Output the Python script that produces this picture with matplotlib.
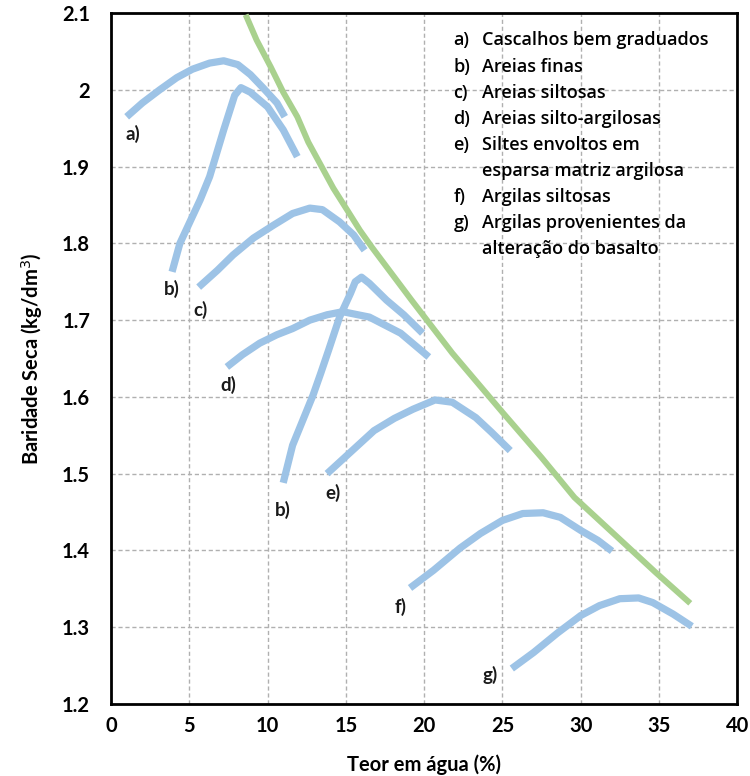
import matplotlib.pyplot as plt

plt.rcParams['font.family'] = ['Lato', 'DejaVu Sans']

# Compaction curves: water content (%) and dry density (kg/dm3)
a_x = [1.0, 2.0, 3.1, 4.2, 5.2, 6.3, 7.2, 8.1, 8.9, 9.7, 10.6, 11.1]
a_y = [1.965, 1.983, 2.000, 2.016, 2.027, 2.035, 2.038, 2.033, 2.020, 2.003, 1.983, 1.965]

b1_x = [3.9, 4.4, 5.7, 6.3, 7.2, 7.9, 8.3, 8.9, 10.0, 11.0, 11.9]
b1_y = [1.763, 1.800, 1.857, 1.887, 1.948, 1.993, 2.003, 1.997, 1.978, 1.948, 1.913]

c_x = [5.6, 6.8, 7.8, 9.1, 10.4, 11.6, 12.7, 13.5, 14.6, 15.5, 16.2]
c_y = [1.743, 1.765, 1.785, 1.807, 1.824, 1.839, 1.846, 1.844, 1.828, 1.811, 1.791]

d_x = [7.4, 8.4, 9.5, 10.6, 11.6, 12.7, 13.8, 14.8, 16.5, 18.5, 20.3]
d_y = [1.639, 1.655, 1.670, 1.681, 1.689, 1.700, 1.707, 1.711, 1.704, 1.683, 1.652]

b2_x = [11.0, 11.6, 12.9, 13.4, 13.9, 14.6, 15.3, 15.6, 16.0, 16.5, 17.6, 18.7, 19.9]
b2_y = [1.488, 1.537, 1.602, 1.631, 1.661, 1.704, 1.735, 1.750, 1.756, 1.748, 1.726, 1.707, 1.683]

e_x = [13.8, 15.3, 16.8, 18.1, 19.3, 20.7, 21.8, 23.3, 24.3, 25.5]
e_y = [1.500, 1.528, 1.556, 1.572, 1.584, 1.596, 1.593, 1.573, 1.554, 1.530]

f_x = [19.1, 20.6, 22.3, 23.6, 25.0, 26.3, 27.6, 28.7, 30.0, 31.1, 32.0]
f_y = [1.351, 1.374, 1.403, 1.422, 1.439, 1.448, 1.449, 1.443, 1.426, 1.413, 1.399]

g_x = [25.6, 27.0, 28.5, 30.0, 31.2, 32.5, 33.7, 34.6, 35.9, 37.1]
g_y = [1.246, 1.267, 1.292, 1.315, 1.328, 1.337, 1.338, 1.332, 1.317, 1.301]

# Saturation line
sat_x = [8.6, 9.3, 10.2, 11.0, 11.9, 12.6, 13.4, 14.2, 15.1, 15.9, 16.7,
         19.2, 21.8, 25.0, 27.5, 29.6, 32.2, 34.8, 37.0]
sat_y = [2.098, 2.065, 2.030, 1.997, 1.965, 1.932, 1.902, 1.872, 1.843, 1.817, 1.794,
         1.726, 1.657, 1.580, 1.521, 1.469, 1.420, 1.371, 1.331]

curve_labels = ['a)', 'b)', 'c)', 'd)', 'b)', 'e)', 'f)', 'g)']
label_x = [1.4, 3.9, 5.7, 7.5, 11.0, 14.2, 18.5, 24.2]
label_y = [1.942, 1.740, 1.713, 1.616, 1.452, 1.475, 1.326, 1.238]

legend_keys = ['a)', 'b)', 'c)', 'd)', 'e)', '', 'f)', 'g)', '']
legend_text = ['Cascalhos bem graduados', 'Areias finas', 'Areias siltosas',
               'Areias silto-argilosas', 'Siltes envoltos em',
               'esparsa matriz argilosa', 'Argilas siltosas',
               'Argilas provenientes da', 'alteração do basalto']

blue = '#9dc3e6'
green = '#a9d18e'

fig = plt.figure(figsize=(7.5, 7.76), dpi=100)
ax = fig.add_axes([0.148, 0.093, 0.835, 0.890])

ax.plot(sat_x, sat_y, color=green, lw=4.3, solid_capstyle='butt',
        solid_joinstyle='round', zorder=3)
for xs, ys in [(a_x, a_y), (b1_x, b1_y), (c_x, c_y), (d_x, d_y),
               (b2_x, b2_y), (e_x, e_y), (f_x, f_y), (g_x, g_y)]:
    ax.plot(xs, ys, color=blue, lw=5.2, solid_capstyle='butt',
            solid_joinstyle='round', zorder=4)

for t, x, y in zip(curve_labels, label_x, label_y):
    ax.text(x, y, t, fontsize=13.5, fontweight='bold', ha='center', va='center',
            color='#1a1a1a')

# Legend block written as plain text
for i, (k, t) in enumerate(zip(legend_keys, legend_text)):
    yy = 0.9605 - i * 0.0378
    ax.text(0.547, yy, k, transform=ax.transAxes, fontsize=13, va='center',
            color='#000000', fontweight='semibold', family=['Open Sans', 'DejaVu Sans'])
    ax.text(0.592, yy, t, transform=ax.transAxes, fontsize=13, va='center',
            color='#000000', fontweight='semibold', family=['Open Sans', 'DejaVu Sans'])

ax.set_xlim(0, 40)
ax.set_ylim(1.2, 2.1)
ax.set_xticks(range(0, 41, 5))
ax.set_yticks([1.2, 1.3, 1.4, 1.5, 1.6, 1.7, 1.8, 1.9, 2.0, 2.1])
ax.set_yticklabels(['1.2', '1.3', '1.4', '1.5', '1.6', '1.7', '1.8', '1.9', '2', '2.1'])
ax.grid(True, color='#b0b0b0', ls=(0, (3, 2)), lw=1)
ax.set_axisbelow(True)
ax.tick_params(axis='x', length=0, labelsize=14.5, pad=9)
ax.tick_params(axis='y', length=0, labelsize=14.5, pad=15)
for lab in ax.get_xticklabels() + ax.get_yticklabels():
    lab.set_fontweight('bold')
for s in ax.spines.values():
    s.set_linewidth(2)
    s.set_color('black')

ax.set_xlabel('Teor em água (%)', fontsize=14.5, fontweight='bold', labelpad=13)
ax.set_ylabel('Baridade Seca (kg/dm$^3$)', fontsize=14.5, fontweight='bold', labelpad=12)

fig.savefig('out.png', dpi=100)
